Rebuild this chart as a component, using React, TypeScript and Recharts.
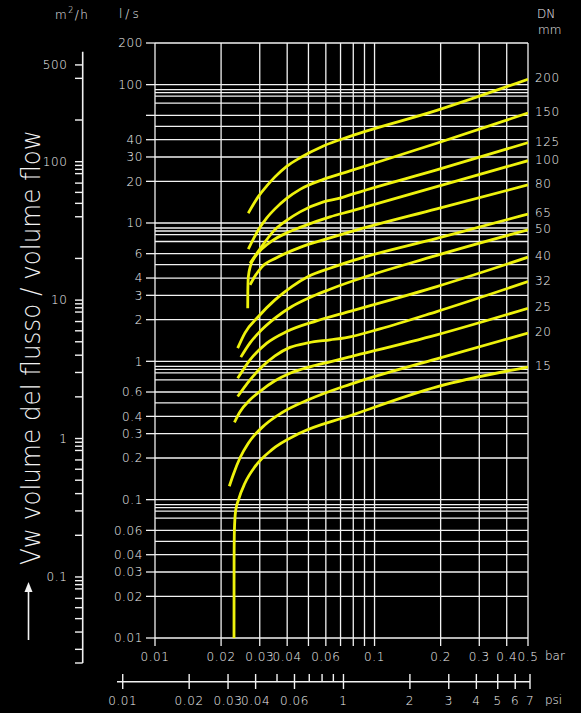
import { useEffect } from "react";
import { LineChart, Line, XAxis, YAxis, CartesianGrid } from "recharts";

// pressure drop p [bar] -> volume flow q [l/s], one array per nominal size DN
const dn15 = [
  { p: 0.0229, q: 0.01 }, { p: 0.02291, q: 0.0189 }, { p: 0.02292, q: 0.0368 },
  { p: 0.023, q: 0.0606 }, { p: 0.02327, q: 0.0818 }, { p: 0.024, q: 0.0998 },
  { p: 0.0257, q: 0.132 }, { p: 0.0286, q: 0.174 }, { p: 0.034, q: 0.229 },
  { p: 0.045, q: 0.299 }, { p: 0.0773, q: 0.404 }, { p: 0.192, q: 0.654 },
  { p: 0.5, q: 0.908 },
];
const dn20 = [
  { p: 0.0218, q: 0.125 }, { p: 0.0227, q: 0.151 }, { p: 0.0244, q: 0.201 },
  { p: 0.0266, q: 0.256 }, { p: 0.0317, q: 0.348 }, { p: 0.0378, q: 0.425 },
  { p: 0.0499, q: 0.527 }, { p: 0.0773, q: 0.682 }, { p: 0.192, q: 1.043 },
  { p: 0.5, q: 1.6 },
];
const dn25 = [
  { p: 0.023, q: 0.362 }, { p: 0.0244, q: 0.432 }, { p: 0.0271, q: 0.527 },
  { p: 0.0301, q: 0.607 }, { p: 0.0352, q: 0.723 }, { p: 0.0412, q: 0.819 },
  { p: 0.0508, q: 0.913 }, { p: 0.0627, q: 0.992 }, { p: 0.0773, q: 1.078 },
  { p: 0.192, q: 1.554 }, { p: 0.5, q: 2.42 },
];
const dn32 = [
  { p: 0.0238, q: 0.557 }, { p: 0.0271, q: 0.735 }, { p: 0.0307, q: 0.913 },
  { p: 0.0352, q: 1.096 }, { p: 0.0412, q: 1.262 }, { p: 0.0498, q: 1.36 },
  { p: 0.0627, q: 1.43 }, { p: 0.0734, q: 1.479 }, { p: 0.1059, q: 1.717 },
  { p: 0.192, q: 2.29 }, { p: 0.5, q: 3.77 },
];
const dn40 = [
  { p: 0.0238, q: 0.754 }, { p: 0.0271, q: 1.025 }, { p: 0.0323, q: 1.354 },
  { p: 0.0398, q: 1.642 }, { p: 0.0545, q: 1.962 }, { p: 0.0773, q: 2.298 },
  { p: 0.192, q: 3.47 }, { p: 0.5, q: 5.66 },
];
const dn50 = [
  { p: 0.0246, q: 1.072 }, { p: 0.0271, q: 1.36 }, { p: 0.0296, q: 1.6 },
  { p: 0.0352, q: 2.05 }, { p: 0.042, q: 2.49 }, { p: 0.0499, q: 2.86 },
  { p: 0.0627, q: 3.32 }, { p: 0.192, q: 5.83 }, { p: 0.5, q: 8.92 },
];
const dn65 = [
  { p: 0.0238, q: 1.245 }, { p: 0.0257, q: 1.607 }, { p: 0.0296, q: 2.11 },
  { p: 0.0352, q: 2.78 }, { p: 0.042, q: 3.47 }, { p: 0.0499, q: 4.1 },
  { p: 0.0627, q: 4.71 }, { p: 0.0787, q: 5.32 }, { p: 0.192, q: 7.74 },
  { p: 0.5, q: 11.6 },
];
const dn80 = [
  { p: 0.0271, q: 3.57 }, { p: 0.0286, q: 4.15 }, { p: 0.0307, q: 4.82 },
  { p: 0.0358, q: 5.6 }, { p: 0.0458, q: 6.66 }, { p: 0.0627, q: 7.8 },
  { p: 0.0773, q: 8.62 }, { p: 0.192, q: 12.65 }, { p: 0.5, q: 18.85 },
];
const dn100 = [
  { p: 0.02644, q: 2.42 }, { p: 0.02647, q: 3.18 }, { p: 0.02661, q: 4.08 },
  { p: 0.02723, q: 4.9 }, { p: 0.02855, q: 5.69 }, { p: 0.03072, q: 6.5 },
  { p: 0.03412, q: 7.43 }, { p: 0.0398, q: 8.48 }, { p: 0.0458, q: 9.29 },
  { p: 0.0627, q: 11.07 }, { p: 0.0773, q: 12.13 }, { p: 0.192, q: 18.3 },
  { p: 0.5, q: 28.2 },
];
const dn125 = [
  { p: 0.0271, q: 5.12 }, { p: 0.0301, q: 6.5 }, { p: 0.0346, q: 8.7 },
  { p: 0.0398, q: 10.44 }, { p: 0.0458, q: 12.03 }, { p: 0.0585, q: 14.21 },
  { p: 0.0696, q: 15.11 }, { p: 0.0773, q: 15.96 }, { p: 0.192, q: 24.2 },
  { p: 0.5, q: 38.1 },
];
const dn150 = [
  { p: 0.0266, q: 6.47 }, { p: 0.0296, q: 8.92 }, { p: 0.0323, q: 10.89 },
  { p: 0.0352, q: 12.65 }, { p: 0.0398, q: 15.05 }, { p: 0.0458, q: 17.49 },
  { p: 0.0585, q: 20.65 }, { p: 0.0773, q: 23.79 }, { p: 0.192, q: 37.7 },
  { p: 0.5, q: 62.4 },
];
const dn200 = [
  { p: 0.0266, q: 11.77 }, { p: 0.0296, q: 15.57 }, { p: 0.0323, q: 18.54 },
  { p: 0.0352, q: 21.54 }, { p: 0.0398, q: 25.64 }, { p: 0.0458, q: 29.6 },
  { p: 0.0585, q: 36.07 }, { p: 0.0773, q: 42.25 }, { p: 0.192, q: 65.1 },
  { p: 0.5, q: 109.4 },
];

const curves = [
  { dn: "15", data: dn15 },
  { dn: "20", data: dn20 },
  { dn: "25", data: dn25 },
  { dn: "32", data: dn32 },
  { dn: "40", data: dn40 },
  { dn: "50", data: dn50 },
  { dn: "65", data: dn65 },
  { dn: "80", data: dn80 },
  { dn: "100", data: dn100 },
  { dn: "125", data: dn125 },
  { dn: "150", data: dn150 },
  { dn: "200", data: dn200 },
];

// axes
const barTicks = [0.01, 0.02, 0.03, 0.04, 0.05, 0.06, 0.07, 0.08, 0.09, 0.1, 0.2, 0.3, 0.4, 0.5];
const barLabels = ["0.01", "0.02", "0.03", "0.04", "", "0.06", "", "", "", "0.1", "0.2", "0.3", "0.4", "0.5"];
const lsTicks = [0.01, 0.02, 0.03, 0.04, 0.06, 0.1, 0.2, 0.3, 0.4, 0.6, 1, 2, 3, 4, 6, 10, 20, 30, 40, 60, 100, 200];
const lsLabels = ["0.01", "0.02", "0.03", "0.04", "0.06", "0.1", "0.2", "0.3", "0.4", "0.6", "1", "2", "3", "4", "6", "10", "20", "30", "40", "", "100", "200"];
const psiTicks = [0.1, 0.2, 0.3, 0.4, 0.5, 0.6, 0.7, 0.8, 0.9, 1, 2, 3, 4, 5, 6, 7];
const psiLabels = ["0.01", "0.02", "0.03", "0.04", "", "0.06", "", "", "", "1", "2", "3", "4", "5", "6", "7"];
const m3hTicks = [
  500, 400, 200, 100, 94, 88, 82, 70, 60, 50, 40, 20,
  10, 9.4, 8.8, 8.2, 7, 6, 5, 4, 3, 2,
  1, 0.94, 0.88, 0.82, 0.7, 0.6, 0.5, 0.4, 0.3, 0.2,
  0.1, 0.094, 0.088, 0.082, 0.07, 0.06, 0.05, 0.04, 0.03, 0.0239,
];
const m3hLabels: Record<string, string> = { "500": "500", "100": "100", "10": "10", "1": "1", "0.1": "0.1" };

// grid lines of the chart paper
const gridDecades = [0.1, 1, 10, 100];
const gridSteps = [1, 0.92, 0.875, 0.825, 0.735, 0.6, 0.5, 0.4, 0.3, 0.2];
const hGrid = [0.01, ...gridDecades.flatMap((d) => gridSteps.map((s) => d * s)), 200];
const vGrid = barTicks;

const FONT = "'DejaVu Sans', sans-serif";
const LIGHT = 300;
const INK = "#f2f2f2";
const YELLOW = "#eef20c";
const tickStyle = { fill: INK, fontSize: 12, fontFamily: FONT, fontWeight: LIGHT, letterSpacing: 0.6 };

function dnLabel(dn: string, last: number) {
  // eslint-disable-next-line @typescript-eslint/no-explicit-any
  return (props: any) => {
    if (props.index !== last) return null;
    return (
      <text x={props.x + 7} y={props.y - 1} dominantBaseline="central" fill={INK} fontSize={12} fontFamily={FONT} fontWeight={LIGHT} letterSpacing={0.6}>
        {dn}
      </text>
    );
  };
}

// eslint-disable-next-line @typescript-eslint/no-explicit-any
function PsiTick(props: any) {
  const { x, y, payload } = props;
  const label = psiLabels[psiTicks.indexOf(payload.value)];
  return (
    <g>
      <line x1={x} x2={x} y1={y - 7.7} y2={label ? y + 7.3 : y} stroke={INK} strokeWidth={1.4} />
      {label && (
        <text x={x} y={y + 19} textAnchor="middle" dominantBaseline="central" fill={INK} fontSize={12} fontFamily={FONT} fontWeight={LIGHT} letterSpacing={0.6}>
          {label}
        </text>
      )}
    </g>
  );
}

export default function App() {
  useEffect(() => {
    document.body.style.margin = "0";
    document.body.style.background = "#000";
  }, []);

  return (
    <div style={{ position: "fixed", left: 0, top: 0, width: 581, height: 713, background: "#000" }}>
      {/* main diagram: bar vs l/s */}
      <div style={{ position: "absolute", left: 0, top: 0 }}>
        <LineChart width={581} height={713} margin={{ top: 43, right: 53, bottom: 55, left: 95 }}>
          <CartesianGrid horizontalValues={hGrid} verticalValues={vGrid} stroke={INK} strokeWidth={1.3} />
          <XAxis
            dataKey="p"
            type="number"
            scale="log"
            domain={[0.01, 0.5]}
            allowDataOverflow
            ticks={barTicks}
            interval={0}
            tickFormatter={(v: number) => barLabels[barTicks.indexOf(v)] ?? ""}
            tick={tickStyle}
            tickLine={{ stroke: INK, strokeWidth: 1.3 }}
            axisLine={false}
            tickSize={8}
            tickMargin={6}
            height={20}
          />
          <YAxis
            dataKey="q"
            type="number"
            scale="log"
            domain={[0.01, 200]}
            allowDataOverflow
            ticks={lsTicks}
            interval={0}
            tickFormatter={(v: number) => lsLabels[lsTicks.indexOf(v)] ?? ""}
            tick={tickStyle}
            tickLine={{ stroke: INK, strokeWidth: 1.3 }}
            axisLine={false}
            tickSize={9}
            tickMargin={3}
            width={60}
          />
          {curves.map((c) => (
            <Line
              key={c.dn}
              data={c.data}
              dataKey="q"
              type="monotone"
              stroke={YELLOW}
              strokeWidth={2.8}
              dot={false}
              isAnimationActive={false}
              label={dnLabel(c.dn, c.data.length - 1)}
            />
          ))}
        </LineChart>
      </div>

      {/* secondary flow scale in m³/h */}
      <div style={{ position: "absolute", left: 0, top: 0 }}>
        <LineChart width={92} height={713} margin={{ top: 51.7, right: 8, bottom: 50, left: 0 }}>
          <XAxis hide />
          <YAxis
            type="number"
            scale="log"
            domain={[0.0239, 623]}
            allowDataOverflow
            ticks={m3hTicks}
            interval={0}
            tickFormatter={(v: number) => m3hLabels[String(v)] ?? ""}
            tick={tickStyle}
            tickLine={{ stroke: INK, strokeWidth: 1.4 }}
            axisLine={{ stroke: INK, strokeWidth: 1.6 }}
            tickSize={7.7}
            tickMargin={7.5}
            width={82.7}
          />
          <Line data={m3hTicks.map((v) => ({ v }))} dataKey="v" stroke="none" dot={false} isAnimationActive={false} />
        </LineChart>
      </div>

      {/* secondary pressure scale in psi */}
      <div style={{ position: "absolute", left: 0, top: 0 }}>
        <LineChart width={581} height={713} margin={{ top: 600, right: 51, bottom: 1.3, left: 117 }}>
          <XAxis
            dataKey="p"
            type="number"
            scale="log"
            domain={[0.0942, 7]}
            allowDataOverflow
            ticks={psiTicks}
            interval={0}
            tick={<PsiTick />}
            tickLine={false}
            tickSize={0}
            tickMargin={0}
            axisLine={{ stroke: INK, strokeWidth: 1.6 }}
            height={30}
          />
          <YAxis hide domain={[0, 2]} />
          <Line data={psiTicks.map((p) => ({ p, v: 1 }))} dataKey="v" stroke="none" dot={false} isAnimationActive={false} />
        </LineChart>
      </div>

      {/* titles and units */}
      <svg width={581} height={713} style={{ position: "absolute", left: 0, top: 0 }} fontFamily={FONT} fontWeight={LIGHT} fill={INK}>
        <text x={55} y={15} dominantBaseline="central" fontSize={12} letterSpacing={1.5}>
          m<tspan dy={-5} fontSize={8}>2</tspan>
          <tspan dy={5}>/h</tspan>
        </text>
        <text x={119} y={14} dominantBaseline="central" fontSize={12} letterSpacing={3}>l/s</text>
        <text x={537} y={13.5} dominantBaseline="central" fontSize={12}>DN</text>
        <text x={538} y={30} dominantBaseline="central" fontSize={12}>mm</text>
        <text x={545} y={656} dominantBaseline="central" fontSize={12}>bar</text>
        <text x={545} y={700} dominantBaseline="central" fontSize={12}>psi</text>
        <text
          transform="translate(39.5,565) rotate(-90)"
          fontSize={26}
          textLength={435}
          lengthAdjust="spacingAndGlyphs"
        >
          Vw volume del flusso / volume flow
        </text>
        <line x1={28.5} x2={28.5} y1={640} y2={590} stroke={INK} strokeWidth={1.6} />
        <polygon points="28.5,582 24.5,592 32.5,592" fill={INK} />
      </svg>
    </div>
  );
}
